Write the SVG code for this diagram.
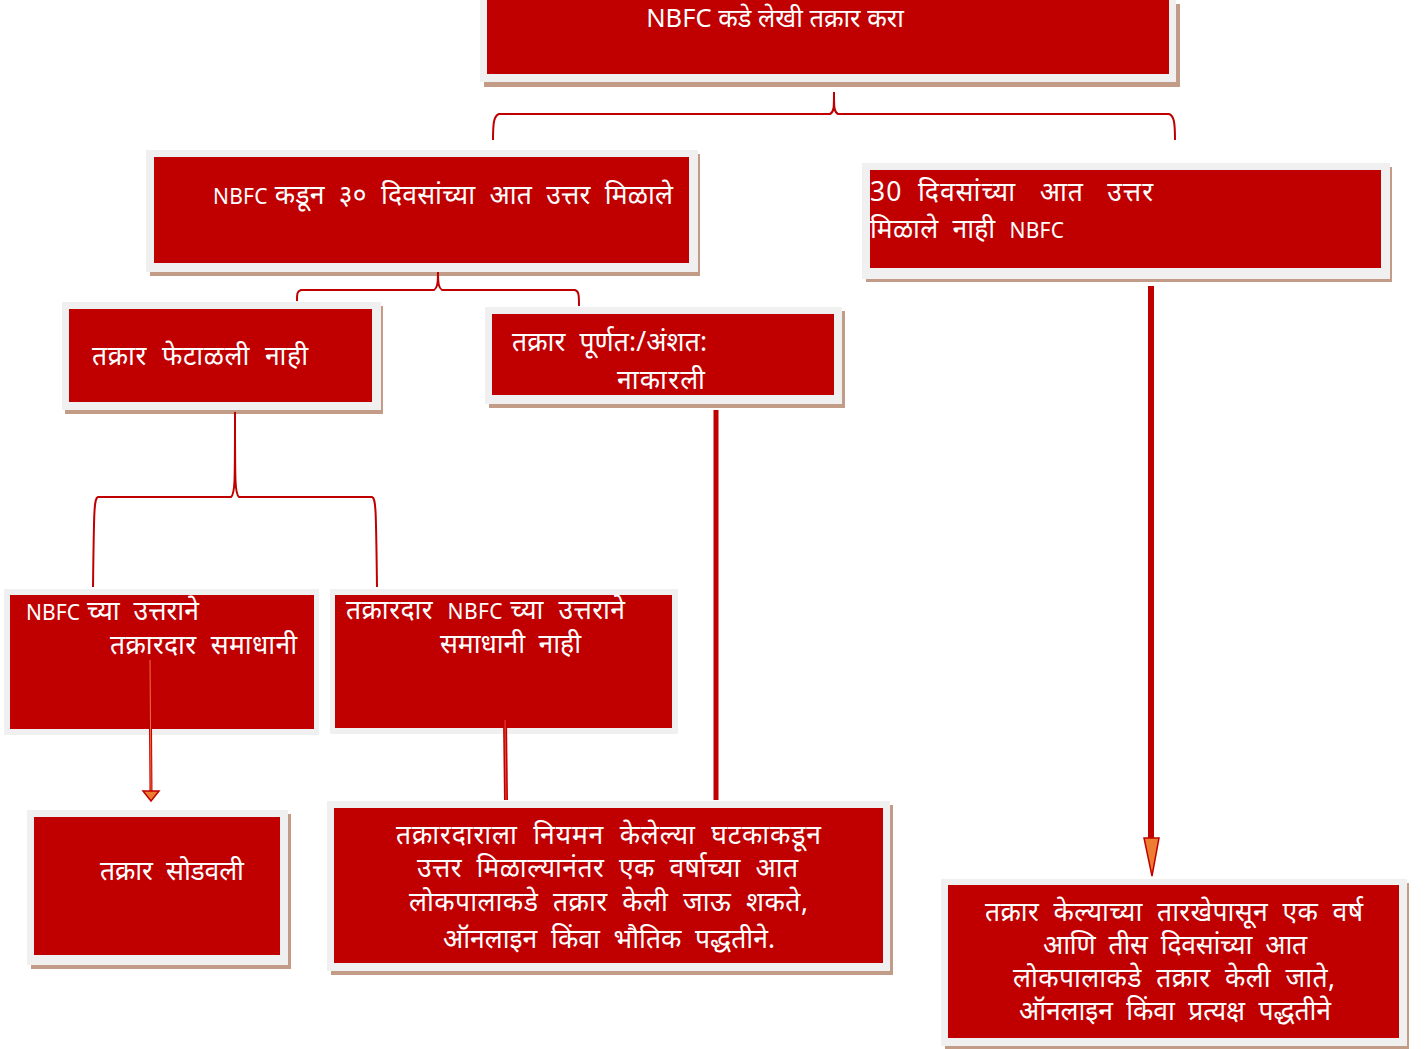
<svg xmlns="http://www.w3.org/2000/svg" width="1428" height="1049" viewBox="0 0 1428 1049">
<style>
.sh{fill:#C39C87}
.fr{fill:#F0F0F0}
.bx{fill:#C00000}
.t{fill:#FFFFFF;font-family:"Noto Sans","Noto Sans Devanagari","Lohit Devanagari",sans-serif;font-size:26.5px;white-space:pre}
.s{font-size:21px}
.br{fill:none;stroke:#C00000;stroke-width:2}
</style>
<rect width="1428" height="1049" fill="#FFFFFF"/>

<g id="n1">
<rect class="sh" x="484" y="4" width="696" height="83"/>
<rect class="fr" x="480" y="0" width="696" height="82"/>
<rect class="bx" x="487" y="0" width="682" height="74"/>
<text class="t" x="775" y="27" style="font-size:25.5px" text-anchor="middle">NBFC कडे लेखी तक्रार करा</text>
</g>

<g id="n2">
<rect class="sh" x="150" y="154" width="550" height="122"/>
<rect class="fr" x="146" y="150" width="552" height="122"/>
<rect class="bx" x="154" y="157" width="535" height="106"/>
<text class="t" x="213" y="204" textLength="460" lengthAdjust="spacing"><tspan class="s">NBFC</tspan> कडून  ३०  दिवसांच्या  आत  उत्तर  मिळाले</text>
</g>

<g id="n3">
<rect class="sh" x="866" y="167" width="526" height="115"/>
<rect class="fr" x="862" y="163" width="528" height="116"/>
<rect class="bx" x="870" y="170" width="511" height="98"/>
<text class="t" x="870" y="201" textLength="283" lengthAdjust="spacing">30  दिवसांच्या   आत   उत्तर</text>
<text class="t" x="870" y="238" textLength="194" lengthAdjust="spacing">मिळाले  नाही  <tspan class="s">NBFC</tspan></text>
</g>

<g id="n4">
<rect class="sh" x="65" y="306" width="318" height="108"/>
<rect class="fr" x="62" y="302" width="319" height="108"/>
<rect class="bx" x="69" y="309" width="303" height="93"/>
<text class="t" x="92" y="365" textLength="216" lengthAdjust="spacing">तक्रार  फेटाळली  नाही</text>
</g>

<g id="n5">
<rect class="sh" x="489" y="311" width="356" height="97"/>
<rect class="fr" x="485" y="307" width="357" height="97"/>
<rect class="bx" x="492" y="314" width="342" height="81"/>
<text class="t" x="512" y="351" textLength="195" lengthAdjust="spacing">तक्रार  पूर्णत:/अंशत:</text>
<text class="t" x="617" y="389" textLength="88" lengthAdjust="spacing">नाकारली</text>
</g>

<g id="n6">
<rect class="fr" x="4" y="589" width="315" height="146"/>
<rect class="bx" x="10" y="595" width="304" height="134"/>
<text class="t" x="26" y="620" textLength="173" lengthAdjust="spacing"><tspan class="s">NBFC</tspan> च्या  उत्तराने</text>
<text class="t" x="110" y="654" textLength="187" lengthAdjust="spacing">तक्रारदार  समाधानी</text>
</g>

<g id="n7">
<rect class="fr" x="330" y="589" width="348" height="145"/>
<rect class="bx" x="335" y="595" width="337" height="133"/>
<text class="t" x="346" y="619" textLength="279" lengthAdjust="spacing">तक्रारदार  <tspan class="s">NBFC</tspan> च्या  उत्तराने</text>
<text class="t" x="440" y="653" textLength="141" lengthAdjust="spacing">समाधानी  नाही</text>
</g>

<g id="n8">
<rect class="sh" x="31" y="814" width="260" height="155"/>
<rect class="fr" x="27" y="810" width="261" height="155"/>
<rect class="bx" x="34" y="817" width="246" height="138"/>
<text class="t" x="100" y="880" textLength="144" lengthAdjust="spacing">तक्रार  सोडवली</text>
</g>

<g id="n9">
<rect class="sh" x="331" y="805" width="562" height="170"/>
<rect class="fr" x="327" y="801" width="563" height="170"/>
<rect class="bx" x="334" y="808" width="549" height="155"/>
<text class="t" x="396" y="844" textLength="425" lengthAdjust="spacing">तक्रारदाराला  नियमन  केलेल्या  घटकाकडून</text>
<text class="t" x="417" y="877" textLength="381" lengthAdjust="spacing">उत्तर  मिळाल्यानंतर  एक  वर्षाच्या  आत</text>
<text class="t" x="409" y="911" textLength="399" lengthAdjust="spacing">लोकपालाकडे  तक्रार  केली  जाऊ  शकते,</text>
<text class="t" x="443" y="948" textLength="332" lengthAdjust="spacing">ऑनलाइन  किंवा  भौतिक  पद्धतीने.</text>
</g>

<g id="n10">
<rect class="sh" x="945" y="883" width="464" height="166"/>
<rect class="fr" x="941" y="879" width="466" height="167"/>
<rect class="bx" x="948" y="885" width="451" height="153"/>
<text class="t" x="985" y="921" textLength="378" lengthAdjust="spacing">तक्रार  केल्याच्या  तारखेपासून  एक  वर्ष</text>
<text class="t" x="1043" y="954" textLength="264" lengthAdjust="spacing">आणि  तीस  दिवसांच्या  आत</text>
<text class="t" x="1013" y="987" textLength="322" lengthAdjust="spacing">लोकपालाकडे  तक्रार  केली  जाते,</text>
<text class="t" x="1019" y="1020" textLength="312" lengthAdjust="spacing">ऑनलाइन  किंवा  प्रत्यक्ष  पद्धतीने</text>
</g>

<g id="connectors">
<path class="br" d="M834,92 C834,108 834,112 830,114 L499,114 C494,116 493,122 493,140"/>
<path class="br" d="M834,92 C834,108 834,112 838,114 L1169,114 C1174,116 1175,122 1175,140"/>
<path class="br" d="M438,272 C438,285 437,288 434,290 L301,290 C297,291 297,294 297,301"/>
<path class="br" d="M438,272 C438,285 439,288 442,290 L575,290 C579,291 579,296 579,306"/>
<path class="br" d="M235,412 C235,485 235,494 231,497 L98,497 C94,498 94,510 93,587"/>
<path class="br" d="M235,412 C235,485 235,494 239,497 L372,497 C376,498 376,510 377,587"/>
<line x1="150" y1="660" x2="151" y2="792" stroke="#C00000" stroke-width="3"/>
<line x1="150" y1="660" x2="151" y2="792" stroke="#F07038" stroke-width="1"/>
<path d="M143,791 L159,791 L151,801 Z" fill="#ED7D31" stroke="#C00000" stroke-width="1.5"/>
<line x1="505" y1="720" x2="506" y2="800" stroke="#C00000" stroke-width="4"/>
<line x1="505" y1="720" x2="506" y2="800" stroke="#E8483A" stroke-width="1"/>
<line x1="716" y1="410" x2="716" y2="800" stroke="#C00000" stroke-width="5"/>
<line x1="1151" y1="286" x2="1151" y2="840" stroke="#C00000" stroke-width="6"/>
<path d="M1144,838 L1159,838 L1152,876 Z" fill="#ED7D31" stroke="#C00000" stroke-width="1.5"/>
</g>
</svg>
